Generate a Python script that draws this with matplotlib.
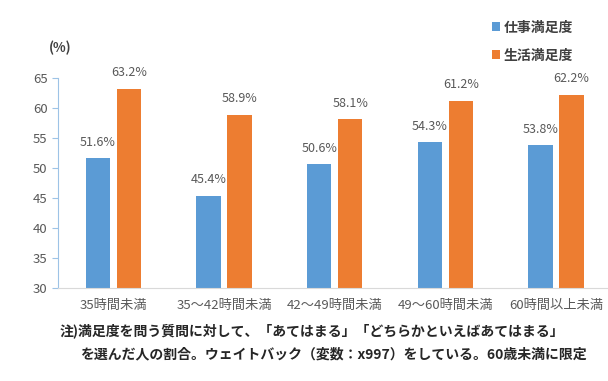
import matplotlib
matplotlib.use('Agg')
import matplotlib.pyplot as plt
import numpy as np

plt.rcParams['font.family'] = ['Noto Sans CJK JP', 'DejaVu Sans']

# data
categories = ['35時間未満', '35～42時間未満', '42～49時間未満', '49～60時間未満', '60時間以上未満']
work_sat = [51.6, 45.4, 50.6, 54.3, 53.8]
life_sat = [63.2, 58.9, 58.1, 61.2, 62.2]
series_names = ['仕事満足度', '生活満足度']

col_blue = '#5B9BD5'
col_orange = '#ED7D31'
txt_col = '#595959'

fig = plt.figure(figsize=(6.08, 3.81), dpi=100)
ax = fig.add_axes([58/608, 1 - 288/381, 1 - 58/608, (288 - 78)/381])

x = np.arange(len(categories))
w = 0.22
off = 0.14
b1 = ax.bar(x - off, work_sat, w, color=col_blue, label=series_names[0])
b2 = ax.bar(x + off, life_sat, w, color=col_orange, label=series_names[1])

for bars, vals in zip([b1, b2], [work_sat, life_sat]):
    for b, v in zip(bars, vals):
        ax.text(b.get_x() + b.get_width()/2, v + 1.6, '%.1f%%' % v,
                ha='center', va='bottom', fontsize=9, color=txt_col)

ax.set_ylim(30, 65)
ax.set_xlim(-0.5, 4.47)
ax.set_yticks(range(30, 66, 5))
ax.set_xticks(x)
ax.set_xticklabels(categories, fontsize=9.5, color=txt_col)
ax.tick_params(axis='y', labelsize=9.5, labelcolor=txt_col, color='#9DC3E6', length=4)
ax.tick_params(axis='x', length=0, pad=8)

for s in ['top', 'right']:
    ax.spines[s].set_visible(False)
ax.spines['left'].set_color('#9DC3E6')
ax.spines['bottom'].set_color('#D9D9D9')

fig.text(60/608, 1 - 48/381, '(%)', fontsize=9.5, fontweight='bold', color='#404040',
         ha='center', va='center')

leg = fig.legend(handles=[b1, b2], loc='upper left', bbox_to_anchor=(486/608, 1 - 15/381),
                 frameon=False, fontsize=10, handlelength=0.6, handleheight=0.6,
                 handletextpad=0.3, labelspacing=1.0, borderaxespad=0)
for t in leg.get_texts():
    t.set_color('#404040')
    t.set_fontweight('bold')

fig.text(60/608, 1 - 331/381, '注)満足度を問う質問に対して、「あてはまる」「どちらかといえばあてはまる」',
         fontsize=10, fontweight='bold', color='#262626', ha='left', va='center')
fig.text(80/608, 1 - 354/381, 'を選んだ人の割合。ウェイトバック（変数：x997）をしている。60歳未満に限定',
         fontsize=10, fontweight='bold', color='#262626', ha='left', va='center')

fig.savefig('out.png', dpi=100)
